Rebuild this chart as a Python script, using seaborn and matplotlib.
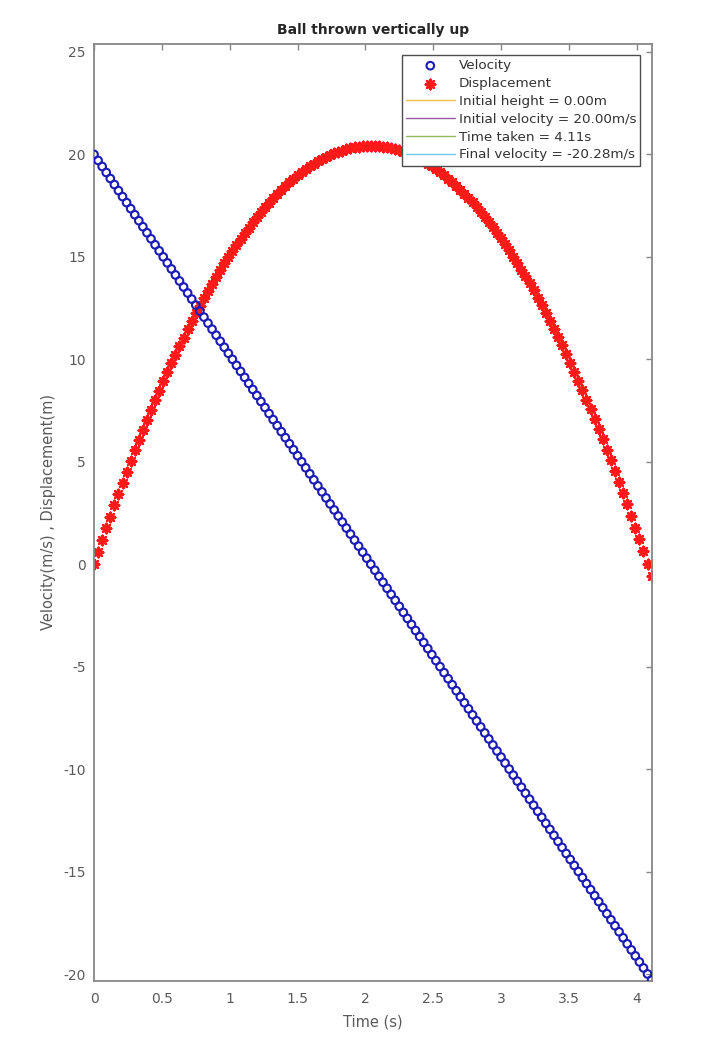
import matplotlib
matplotlib.use("Agg")
import matplotlib.pyplot as plt
import pandas as pd
import seaborn as sns

# time samples of the simulation (s)
time_s = [
    0.00, 0.03, 0.06, 0.09, 0.12, 0.15, 0.18, 0.21, 0.24, 0.27,
    0.30, 0.33, 0.36, 0.39, 0.42, 0.45, 0.48, 0.51, 0.54, 0.57,
    0.60, 0.63, 0.66, 0.69, 0.72, 0.75, 0.78, 0.81, 0.84, 0.87,
    0.90, 0.93, 0.96, 0.99, 1.02, 1.05, 1.08, 1.11, 1.14, 1.17,
    1.20, 1.23, 1.26, 1.29, 1.32, 1.35, 1.38, 1.41, 1.44, 1.47,
    1.50, 1.53, 1.56, 1.59, 1.62, 1.65, 1.68, 1.71, 1.74, 1.77,
    1.80, 1.83, 1.86, 1.89, 1.92, 1.95, 1.98, 2.01, 2.04, 2.07,
    2.10, 2.13, 2.16, 2.19, 2.22, 2.25, 2.28, 2.31, 2.34, 2.37,
    2.40, 2.43, 2.46, 2.49, 2.52, 2.55, 2.58, 2.61, 2.64, 2.67,
    2.70, 2.73, 2.76, 2.79, 2.82, 2.85, 2.88, 2.91, 2.94, 2.97,
    3.00, 3.03, 3.06, 3.09, 3.12, 3.15, 3.18, 3.21, 3.24, 3.27,
    3.30, 3.33, 3.36, 3.39, 3.42, 3.45, 3.48, 3.51, 3.54, 3.57,
    3.60, 3.63, 3.66, 3.69, 3.72, 3.75, 3.78, 3.81, 3.84, 3.87,
    3.90, 3.93, 3.96, 3.99, 4.02, 4.05, 4.08, 4.11,
]

# velocity (m/s)
velocity = [
    20.000, 19.706, 19.412, 19.118, 18.824, 18.530, 18.236, 17.942, 17.648, 17.354,
    17.060, 16.766, 16.472, 16.178, 15.884, 15.590, 15.296, 15.002, 14.708, 14.414,
    14.120, 13.826, 13.532, 13.238, 12.944, 12.650, 12.356, 12.062, 11.768, 11.474,
    11.180, 10.886, 10.592, 10.298, 10.004, 9.710, 9.416, 9.122, 8.828, 8.534,
    8.240, 7.946, 7.652, 7.358, 7.064, 6.770, 6.476, 6.182, 5.888, 5.594,
    5.300, 5.006, 4.712, 4.418, 4.124, 3.830, 3.536, 3.242, 2.948, 2.654,
    2.360, 2.066, 1.772, 1.478, 1.184, 0.890, 0.596, 0.302, 0.008, -0.286,
    -0.580, -0.874, -1.168, -1.462, -1.756, -2.050, -2.344, -2.638, -2.932, -3.226,
    -3.520, -3.814, -4.108, -4.402, -4.696, -4.990, -5.284, -5.578, -5.872, -6.166,
    -6.460, -6.754, -7.048, -7.342, -7.636, -7.930, -8.224, -8.518, -8.812, -9.106,
    -9.400, -9.694, -9.988, -10.282, -10.576, -10.870, -11.164, -11.458, -11.752, -12.046,
    -12.340, -12.634, -12.928, -13.222, -13.516, -13.810, -14.104, -14.398, -14.692, -14.986,
    -15.280, -15.574, -15.868, -16.162, -16.456, -16.750, -17.044, -17.338, -17.632, -17.926,
    -18.220, -18.514, -18.808, -19.102, -19.396, -19.690, -19.984, -20.278,
]

# displacement (m)
displacement = [
    0.000, 0.596, 1.182, 1.760, 2.329, 2.890, 3.441, 3.984, 4.518, 5.043,
    5.559, 6.066, 6.565, 7.055, 7.536, 8.008, 8.471, 8.926, 9.371, 9.808,
    10.236, 10.655, 11.066, 11.467, 11.860, 12.244, 12.619, 12.985, 13.343, 13.691,
    14.031, 14.362, 14.684, 14.998, 15.302, 15.598, 15.885, 16.163, 16.432, 16.692,
    16.944, 17.187, 17.421, 17.646, 17.862, 18.070, 18.268, 18.458, 18.639, 18.812,
    18.975, 19.130, 19.275, 19.412, 19.540, 19.660, 19.770, 19.872, 19.965, 20.049,
    20.124, 20.190, 20.248, 20.297, 20.337, 20.368, 20.390, 20.404, 20.408, 20.404,
    20.391, 20.369, 20.339, 20.299, 20.251, 20.194, 20.128, 20.053, 19.970, 19.877,
    19.776, 19.666, 19.547, 19.420, 19.283, 19.138, 18.984, 18.821, 18.649, 18.468,
    18.279, 18.081, 17.874, 17.658, 17.433, 17.200, 16.957, 16.706, 16.446, 16.178,
    15.900, 15.614, 15.318, 15.014, 14.701, 14.380, 14.049, 13.710, 13.362, 13.005,
    12.639, 12.264, 11.881, 11.489, 11.088, 10.678, 10.259, 9.832, 9.395, 8.950,
    8.496, 8.033, 7.562, 7.081, 6.592, 6.094, 5.587, 5.071, 4.547, 4.013,
    3.471, 2.920, 2.360, 1.792, 1.214, 0.628, 0.033, -0.571,
]

# extra legend entries (lines with no data)
info_labels = ["Initial height = 0.00m", "Initial velocity = 20.00m/s",
               "Time taken = 4.11s", "Final velocity = -20.28m/s"]
info_colors = ["#EDB120", "#7E2F8E", "#77AC30", "#4DBEEE"]

x_ticks = [0, 0.5, 1, 1.5, 2, 2.5, 3, 3.5, 4]
x_tick_labels = ["0", "0.5", "1", "1.5", "2", "2.5", "3", "3.5", "4"]
y_ticks = [-20, -15, -10, -5, 0, 5, 10, 15, 20, 25]

sns.set_style("white")
plt.rcParams["font.family"] = ["DejaVu Sans"]
plt.rcParams["axes.unicode_minus"] = False

df = pd.DataFrame({"time": time_s, "velocity": velocity,
                   "displacement": displacement})

fig = plt.figure(figsize=(7.2, 10.41), dpi=100)
ax = fig.add_axes([0.1306, 0.0576, 0.7744, 0.9004])

sns.scatterplot(data=df, x="time", y="velocity", ax=ax, marker="o",
                s=30, facecolor="none", edgecolor="#1c1cb4", linewidth=1.5,
                label="Velocity", zorder=3)
sns.scatterplot(data=df, x="time", y="displacement", ax=ax,
                marker=(8, 2, 0), s=46, color="#ff1a1a", edgecolor="#ff1a1a",
                linewidth=1.8, label="Displacement", zorder=2)
for lab, col in zip(info_labels, info_colors):
    ax.plot([], [], color=col, linewidth=1.0, alpha=0.8, label=lab)

ax.set_xlim(0, 4.11)
ax.set_ylim(-20.33, 25.4)
ax.set_xticks(x_ticks)
ax.set_xticklabels(x_tick_labels)
ax.set_yticks(y_ticks)

grey = "#878787"
for sp in ax.spines.values():
    sp.set_color(grey)
    sp.set_linewidth(1.3)
    sp.set_visible(True)
ax.tick_params(direction="in", length=4, width=1.0, color=grey,
               labelcolor="#5a5a5a", labelsize=10, top=True, right=True)
ax.tick_params(axis="x", pad=8)
ax.tick_params(axis="y", pad=6)

ax.set_title("Ball thrown vertically up", fontsize=10, fontweight="bold",
             color="#262626", pad=7)
ax.set_xlabel("Time (s)", fontsize=10.5, color="#5a5a5a", labelpad=6)
ax.set_ylabel("Velocity(m/s) , Displacement(m)", fontsize=10.5,
              color="#5a5a5a", labelpad=5)

leg = ax.legend(loc="upper right", fontsize=9.7, frameon=True, fancybox=False,
                edgecolor="#4d4d4d", framealpha=1, borderaxespad=0.85,
                handlelength=3.6, handletextpad=0.3, labelspacing=0.36,
                borderpad=0.3, markerscale=1.0)
leg.get_frame().set_linewidth(1.0)
for txt in leg.get_texts():
    txt.set_color("#333333")

fig.savefig("out.png", dpi=100)
